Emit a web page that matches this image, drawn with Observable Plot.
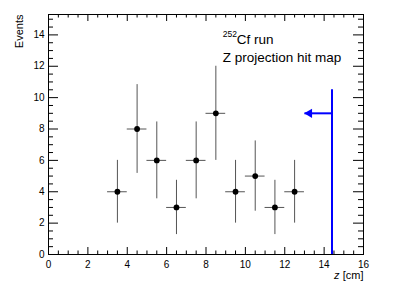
<!DOCTYPE html>
<html>
<head>
<meta charset="utf-8">
<script src="https://cdn.jsdelivr.net/npm/d3@7"></script>
<script src="https://cdn.jsdelivr.net/npm/@observablehq/plot@0.6"></script>
<style>
  html, body { margin: 0; padding: 0; background: #fff; }
  #chart svg { display: block; }
</style>
</head>
<body>
<div id="chart"></div>
<script>
// ---- data ----
const binCenters = [3.5, 4.5, 5.5, 6.5, 7.5, 8.5, 9.5, 10.5, 11.5, 12.5];
const counts     = [4, 8, 6, 3, 6, 9, 4, 5, 3, 4];
const errors     = [2, 2.83, 2.45, 1.73, 2.45, 3, 2, 2.24, 1.73, 2];
const binHalfWidth = 0.5;

const xMajorTicks = [0, 2, 4, 6, 8, 10, 12, 14, 16];
const xMinorTicks = [0.5,1,1.5,2.5,3,3.5,4.5,5,5.5,6.5,7,7.5,8.5,9,9.5,10.5,11,11.5,12.5,13,13.5,14.5,15,15.5];
const yMajorTicks = [0, 2, 4, 6, 8, 10, 12, 14];
const yMinorTicks = [0.5,1,1.5,2.5,3,3.5,4.5,5,5.5,6.5,7,7.5,8.5,9,9.5,10.5,11,11.5,12.5,13,13.5,14.5,15];

// cut line and arrow
const cutZ = 14.4;
const cutTop = 10.5;
const arrowY = 9;
const arrowTip = 13;

// annotation text
const annotX = 8.85;
const annotSup = "252";
const annotLine1 = "Cf run";
const annotLine2 = "Z projection hit map";
const annotY1 = 13.72;
const annotY2 = 12.57;

const data = binCenters.map((x, i) => ({x, y: counts[i], e: errors[i]}));

const W = 403, H = 290;
const mL = 48, mR = 40, mT = 14, mB = 36;
const fw = W - mL - mR, fh = H - mT - mB;

const chart = Plot.plot({
  width: W, height: H,
  marginLeft: mL, marginRight: mR, marginTop: mT, marginBottom: mB,
  style: {fontFamily: "'Liberation Sans', Arial, Helvetica, sans-serif", fontSize: "10px", background: "#fff"},
  x: {domain: [0, 16]},
  y: {domain: [0, 15.3]},
  marks: [
    Plot.axisX(xMajorTicks, {tickSize: 0, tickPadding: 6, tickFormat: d => String(d), label: null, fill: "black"}),
    Plot.axisY(yMajorTicks, {tickSize: 0, tickPadding: 4, tickFormat: d => String(d), label: null, fill: "black"}),
    Plot.tickX(xMajorTicks, {x: d => d, insetTop: fh - 7, stroke: "black"}),
    Plot.tickX(xMinorTicks, {x: d => d, insetTop: fh - 3.5, stroke: "black"}),
    Plot.tickX(xMajorTicks, {x: d => d, insetBottom: fh - 7, stroke: "black"}),
    Plot.tickX(xMinorTicks, {x: d => d, insetBottom: fh - 3.5, stroke: "black"}),
    Plot.tickY(yMajorTicks, {y: d => d, insetRight: fw - 10, stroke: "black"}),
    Plot.tickY(yMinorTicks, {y: d => d, insetRight: fw - 5, stroke: "black"}),
    Plot.tickY(yMajorTicks, {y: d => d, insetLeft: fw - 10, stroke: "black"}),
    Plot.tickY(yMinorTicks, {y: d => d, insetLeft: fw - 5, stroke: "black"}),
    Plot.ruleX(data, {x: "x", y1: d => d.y - d.e, y2: d => d.y + d.e, stroke: "#555", strokeWidth: 1}),
    Plot.ruleY(data, {y: "y", x1: d => d.x - binHalfWidth, x2: d => d.x + binHalfWidth, stroke: "#555", strokeWidth: 1}),
    Plot.dot(data, {x: "x", y: "y", r: 2.9, fill: "black", stroke: null}),
    Plot.ruleX([cutZ], {x: d => d, y1: 0, y2: cutTop, stroke: "#0000ff", strokeWidth: 2}),
    Plot.link([{x1: cutZ, x2: arrowTip}], {x1: "x1", x2: "x2", y1: arrowY, y2: arrowY, stroke: "#0000ff", strokeWidth: 2}),
    Plot.dot([arrowTip], {x: d => d, y: arrowY, symbol: "triangle", rotate: -90, r: 3.4, fill: "#0000ff", stroke: null, dx: 5}),
    Plot.frame({stroke: "black"}),
    Plot.text([annotSup], {x: annotX, y: annotY1, text: d => d, textAnchor: "start", fontSize: 8.5, dy: -5, fill: "black"}),
    Plot.text([annotLine1], {x: annotX, y: annotY1, text: d => d, textAnchor: "start", fontSize: 13.5, dx: 14, fill: "black"}),
    Plot.text([annotLine2], {x: annotX, y: annotY2, text: d => d, textAnchor: "start", fontSize: 13.5, fill: "black"}),
    Plot.text(["Events"], {frameAnchor: "top-left", text: d => d, rotate: -90, textAnchor: "end", dx: -33, fontSize: 11, fill: "black"}),
    Plot.text(["[cm]"], {frameAnchor: "bottom-right", text: d => d, textAnchor: "end", dy: 24, fontSize: 11, fill: "black"}),
    Plot.text(["z"], {frameAnchor: "bottom-right", text: d => d, textAnchor: "end", dy: 24, dx: -24, fontSize: 11, fontStyle: "italic", fill: "black"})
  ]
});

document.getElementById("chart").appendChild(chart);
</script>
</body>
</html>
